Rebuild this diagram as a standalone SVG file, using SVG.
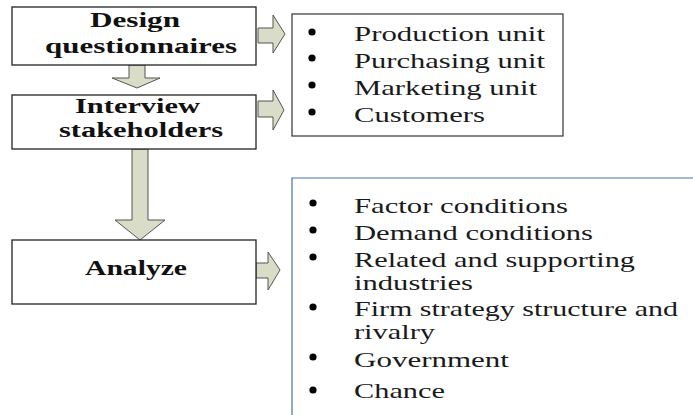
<svg xmlns="http://www.w3.org/2000/svg" width="693" height="415" viewBox="0 0 693 415">
<style>
.box{fill:#fff;stroke:#222;stroke-width:1.3}
.lbl{font-family:'Liberation Serif','DejaVu Serif',serif;font-weight:bold;font-size:20px;fill:#111}
.item{font-family:'Liberation Serif','DejaVu Serif',serif;font-size:21px;fill:#1a1a1a}
.arrow{fill:#d9dcc6;stroke:#555;stroke-width:1}
.dot{fill:#000}
</style>
<rect width="693" height="415" fill="#fff"/>
<g id="connectors">
<polygon class="arrow" points="129,65 145,65 145,78 160,78 137,88 112,78 129,78"/>
<polygon class="arrow" points="132,149 148,149 148,220 165,220 140,240 115,220 132,220"/>
<polygon class="arrow" points="258,28 273,28 273,15 285,34 273,53 273,43 258,43"/>
<polygon class="arrow" points="258,101 273,101 273,90 284,110 273,130 273,117 258,117"/>
<polygon class="arrow" points="256,263 268,263 268,252 280,270 268,290 268,278 256,278"/>
</g>
<g id="node-design">
<rect class="box" x="12" y="7" width="244" height="58"/>
<text class="lbl" x="90" y="27" textLength="90" lengthAdjust="spacingAndGlyphs">Design</text>
<text class="lbl" x="45" y="53" textLength="192" lengthAdjust="spacingAndGlyphs">questionnaires</text>
</g>
<g id="node-interview">
<rect class="box" x="12" y="95" width="244" height="54"/>
<text class="lbl" x="75" y="113" textLength="125" lengthAdjust="spacingAndGlyphs">Interview</text>
<text class="lbl" x="59" y="137" textLength="164" lengthAdjust="spacingAndGlyphs">stakeholders</text>
</g>
<g id="node-analyze">
<rect class="box" x="12" y="240" width="244" height="64"/>
<text class="lbl" x="85" y="275" textLength="102" lengthAdjust="spacingAndGlyphs">Analyze</text>
</g>
<g id="node-stakeholders-list">
<rect x="292" y="14" width="271" height="122" fill="#fff" stroke="#333" stroke-width="1.2"/>
<circle class="dot" cx="312" cy="32" r="3.6"/>
<circle class="dot" cx="312" cy="58" r="3.6"/>
<circle class="dot" cx="312" cy="85" r="3.6"/>
<circle class="dot" cx="312" cy="112" r="3.6"/>
<text class="item" x="354" y="41" textLength="191" lengthAdjust="spacingAndGlyphs">Production unit</text>
<text class="item" x="354" y="68" textLength="191" lengthAdjust="spacingAndGlyphs">Purchasing unit</text>
<text class="item" x="354" y="95" textLength="183" lengthAdjust="spacingAndGlyphs">Marketing unit</text>
<text class="item" x="354" y="122" textLength="131" lengthAdjust="spacingAndGlyphs">Customers</text>
</g>
<g id="node-factors-list">
<path d="M693,178 H292 V415" fill="none" stroke="#4a6fa5" stroke-width="1.2"/>
<circle class="dot" cx="313" cy="203" r="3.6"/>
<circle class="dot" cx="313" cy="230" r="3.6"/>
<circle class="dot" cx="313" cy="257" r="3.6"/>
<circle class="dot" cx="313" cy="307" r="3.6"/>
<circle class="dot" cx="313" cy="357" r="3.6"/>
<circle class="dot" cx="313" cy="390" r="3.6"/>
<text class="item" x="354" y="213" textLength="214" lengthAdjust="spacingAndGlyphs">Factor conditions</text>
<text class="item" x="354" y="240" textLength="239" lengthAdjust="spacingAndGlyphs">Demand conditions</text>
<text class="item" x="354" y="267" textLength="281" lengthAdjust="spacingAndGlyphs">Related and supporting</text>
<text class="item" x="354" y="290" textLength="119" lengthAdjust="spacingAndGlyphs">industries</text>
<text class="item" x="354" y="316" textLength="324" lengthAdjust="spacingAndGlyphs">Firm strategy structure and</text>
<text class="item" x="354" y="339" textLength="81" lengthAdjust="spacingAndGlyphs">rivalry</text>
<text class="item" x="354" y="367" textLength="155" lengthAdjust="spacingAndGlyphs">Government</text>
<text class="item" x="354" y="398" textLength="91" lengthAdjust="spacingAndGlyphs">Chance</text>
</g>
</svg>
